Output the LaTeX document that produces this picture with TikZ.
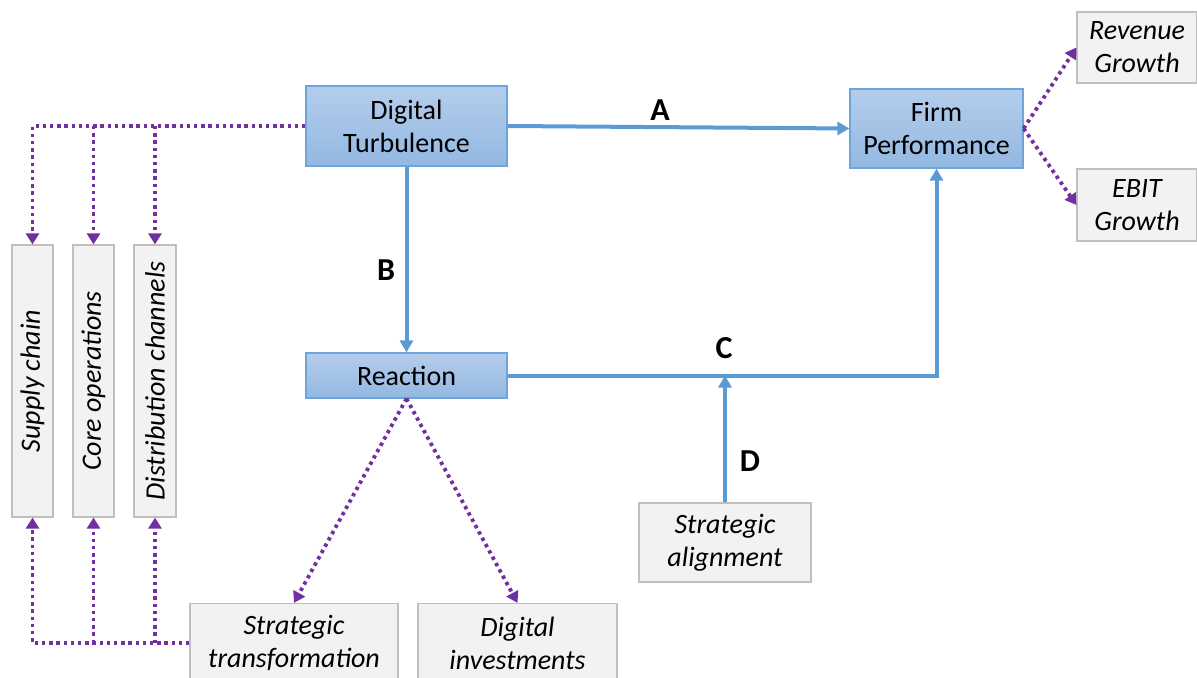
\documentclass[tikz,border=0pt]{standalone}
\usepackage{fontspec}
\setmainfont{Carlito}
\usetikzlibrary{arrows.meta}

\definecolor{boxblue}{RGB}{109,164,220}
\definecolor{linkblue}{RGB}{91,155,213}
\definecolor{topblue}{RGB}{180,205,235}
\definecolor{botblue}{RGB}{148,184,226}
\definecolor{dotpurple}{RGB}{112,48,160}
\definecolor{greyfill}{RGB}{242,242,242}
\definecolor{greyline}{RGB}{191,191,191}

\begin{document}
\begin{tikzpicture}[
      x=0.5pt, y=-0.5pt,
      every node/.style={font=\fontsize{14}{16.5}\selectfont},
      mainbox/.style={draw=boxblue, line width=0.6pt, top color=topblue, bottom color=botblue,
        align=center, inner sep=0pt},
      itembox/.style={draw=greyline, line width=0.6pt, fill=greyfill, align=center,
        inner sep=0pt, font=\fontsize{14}{16.5}\selectfont\itshape},
      bluelink/.style={draw=linkblue, line width=2pt},
      bluearrow/.style={bluelink, -{Triangle[length=6pt,width=6.5pt]}},
      dotlink/.style={draw=dotpurple, line width=1.9pt, dash pattern=on 1.7pt off 1.9pt},
      dotarrow/.style={dotlink, -{Triangle[length=5.5pt,width=6.5pt]}},
      letter/.style={font=\fontsize{16}{18}\selectfont\bfseries}
    ]
    \useasboundingbox (0,0) rectangle (1197,678);

    % main blocks
    \node[mainbox, minimum width=100.5pt, minimum height=40pt] (turb) at (406.5,126) {Digital\\Turbulence};
    \node[mainbox, minimum width=86.5pt, minimum height=39.5pt] (perf) at (936.5,128.5) {Firm\\Performance};
    \node[mainbox, minimum width=100.5pt, minimum height=22.5pt] (react) at (406.5,375.5) {Reaction};

    % outcome boxes
    \node[itembox, minimum width=60pt, minimum height=35.5pt] (rev) at (1137,47.5) {Revenue\\Growth};
    \node[itembox, minimum width=60pt, minimum height=36pt] (ebit) at (1137,205) {EBIT\\Growth};

    % value chain boxes (rotated: east is the top end)
    \node[itembox, rotate=90, minimum width=136pt, minimum height=20.5pt] (supply) at (32.5,381) {Supply chain};
    \node[itembox, rotate=90, minimum width=136pt, minimum height=20.5pt] (coreop) at (93.5,381) {Core operations};
    \node[itembox, rotate=90, minimum width=136pt, minimum height=21pt] (distr) at (155,381) {Distribution channels};

    % reaction boxes
    \node[itembox, minimum width=104pt, minimum height=39.5pt] (strans) at (294,643) {Strategic\\transformation};
    \node[itembox, minimum width=99.5pt, minimum height=39.5pt] (dinv) at (517.5,643) {Digital\\investments};
    \node[itembox, minimum width=86pt, minimum height=39.5pt] (salign) at (725,542.5) {Strategic\\alignment};

    % blue links
    \draw[bluearrow] (turb.east) -- (perf.west);
    \draw[bluearrow] (turb.south) -- (react.north);
    \draw[bluearrow] (react.east) -| (perf.south);
    \coordinate (cjoin) at (salign.north |- react.east);
    \draw[bluearrow] (salign.north) -- (cjoin);

    \node[letter] (la) at (660,110) {A};
    \node[letter] (lb) at (386,270) {B};
    \node[letter] (lc) at (724,348) {C};
    \node[letter] (ld) at (750,461) {D};

    % purple dotted links
    \coordinate (topbus) at (supply.east |- turb.west);
    \coordinate (topcore) at (coreop.east |- turb.west);
    \coordinate (topdistr) at (distr.east |- turb.west);
    \draw[dotarrow] (turb.west) -- (topbus) -- (supply.east);
    \draw[dotarrow] (topcore) -- (coreop.east);
    \draw[dotarrow] (topdistr) -- (distr.east);

    \coordinate (botbus) at (supply.west |- strans.west);
    \coordinate (botcore) at (coreop.west |- strans.west);
    \coordinate (botdistr) at (distr.west |- strans.west);
    \draw[dotarrow] (strans.west) -- (botbus) -- (supply.west);
    \draw[dotarrow] (botcore) -- (coreop.west);
    \draw[dotarrow] (botdistr) -- (distr.west);

    \draw[dotarrow] (react.south) -- (strans.north);
    \draw[dotarrow] (react.south) -- (dinv.north);
    \draw[dotarrow] (perf.east) -- (rev.west);
    \draw[dotarrow] (perf.east) -- (ebit.west);
    \end{tikzpicture}
\end{document}
